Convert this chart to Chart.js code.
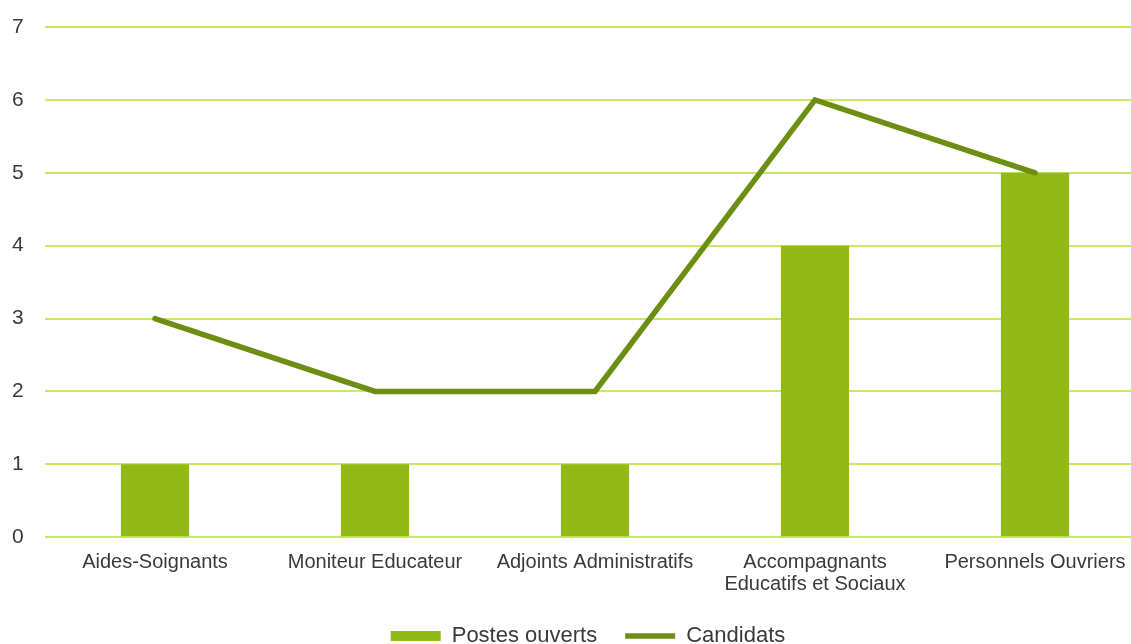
<!DOCTYPE html>
<html>
<head>
<meta charset="utf-8">
<script src="https://cdn.jsdelivr.net/npm/chart.js@4/dist/chart.umd.min.js"></script>
<style>
  html, body { margin: 0; padding: 0; background: #fff; overflow: hidden; }
  #wrap { position: relative; width: 1145px; height: 670px; }
</style>
</head>
<body>
<div id="wrap"><canvas id="chart"></canvas></div>
<script>
// Recrutements par métier : postes ouverts et nombre de candidats
const categories = [
  'Aides-Soignants',
  'Moniteur Educateur',
  'Adjoints Administratifs',
  ['Accompagnants', 'Educatifs et Sociaux'],
  'Personnels Ouvriers'
];
const postesOuverts = [1, 1, 1, 4, 5];
const candidats = [3, 2, 2, 6, 5];
const yTicks = [0, 1, 2, 3, 4, 5, 6, 7];

const BAR_GREEN = '#92b916';
const LINE_GREEN = '#6c8f12';
const GRID_GREEN = '#c6ea66';
const TEXT = '#3a3a3a';
const FONT = 'Liberation Sans, Arial, sans-serif';

// Moves the bottom legend to its final spot once the layout is done
const legendOffset = {
  id: 'legendOffset',
  afterLayout(chart, args, opts) {
    const lg = chart.legend;
    if (!lg) return;
    lg.left += opts.dx; lg.right += opts.dx;
    lg.top += opts.dy; lg.bottom += opts.dy;
  }
};

new Chart(document.getElementById('chart'), {
  data: {
    labels: categories,
    datasets: [
      {
        type: 'bar',
        label: 'Postes ouverts',
        data: postesOuverts,
        backgroundColor: BAR_GREEN,
        borderWidth: 0,
        categoryPercentage: 1,
        barPercentage: 0.31,
        pointStyle: 'rect',
        order: 1
      },
      {
        type: 'line',
        label: 'Candidats',
        data: candidats,
        borderColor: LINE_GREEN,
        backgroundColor: LINE_GREEN,
        borderWidth: 5.5,
        borderCapStyle: 'round',
        borderJoinStyle: 'miter',
        pointRadius: 0,
        pointHoverRadius: 0,
        pointStyle: 'line',
        tension: 0,
        fill: false,
        order: 0
      }
    ]
  },
  plugins: [legendOffset],
  options: {
    responsive: true,
    maintainAspectRatio: false,
    animation: false,
    layout: { padding: { left: 12, right: 0, top: 27, bottom: 0 } },
    plugins: {
      tooltip: { enabled: false },
      legendOffset: { dx: 9.5, dy: -13 },
      legend: {
        position: 'bottom',
        labels: {
          usePointStyle: true,
          pointStyleWidth: 50,
          boxHeight: 10,
          padding: 28,
          color: TEXT,
          font: { family: FONT, size: 22 },
          sort: (a, b) => a.datasetIndex - b.datasetIndex
        }
      }
    },
    scales: {
      x: {
        grid: { display: false, drawTicks: false },
        border: { display: false },
        ticks: {
          color: TEXT,
          padding: 14,
          maxRotation: 0,
          autoSkip: false,
          font: { family: FONT, size: 20, lineHeight: 1.12 }
        }
      },
      y: {
        min: 0,
        max: 7,
        afterBuildTicks: (scale) => { scale.ticks = yTicks.map(v => ({ value: v })); },
        afterFit: (scale) => { scale.width = 33; },
        grid: { color: GRID_GREEN, lineWidth: 2, drawTicks: false },
        border: { display: false },
        ticks: {
          color: TEXT,
          padding: 0,
          crossAlign: 'far',
          font: { family: FONT, size: 21 }
        }
      }
    }
  }
});
</script>
</body>
</html>
